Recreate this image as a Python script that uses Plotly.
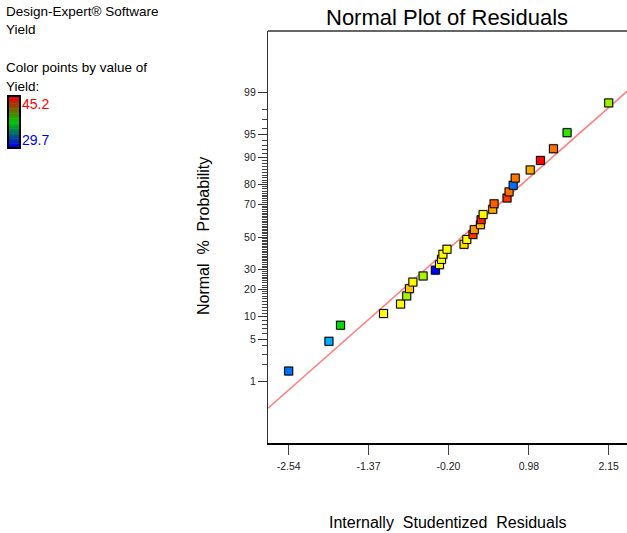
import plotly.graph_objects as go
from statistics import NormalDist

# ---------------- data ----------------
residuals = [-2.54, -1.95, -1.78, -1.15, -0.90, -0.81, -0.77, -0.72, -0.57, -0.39,
             -0.33, -0.30, -0.28, -0.22, 0.03, 0.07, 0.16, 0.18, 0.27, 0.28,
             0.31, 0.45, 0.47, 0.66, 0.69, 0.75, 0.78, 1.00, 1.15, 1.34,
             1.54, 2.15]
normal_pct = [1.5625, 4.6875, 7.8125, 10.9375, 14.0625, 17.1875, 20.3125, 23.4375,
              26.5625, 29.6875, 32.8125, 35.9375, 39.0625, 42.1875, 45.3125, 48.4375,
              51.5625, 54.6875, 57.8125, 60.9375, 64.0625, 67.1875, 70.3125, 73.4375,
              76.5625, 79.6875, 82.8125, 85.9375, 89.0625, 92.1875, 95.3125, 98.4375]
yield_vals = [31.6, 32.6, 37.4, 41.3, 41.3, 40.0, 42.2, 41.4, 40.0, 29.7,
              41.3, 41.2, 41.4, 41.3, 41.9, 41.3, 44.4, 42.9, 42.3, 44.8,
              41.4, 42.6, 43.8, 44.4, 43.5, 31.6, 43.4, 42.6, 45.2, 43.5,
              38.2, 39.8]
yield_min, yield_max = 29.7, 45.2
x_tick_vals = [-2.54, -1.37, -0.20, 0.98, 2.15]
y_major_pct = [1, 5, 10, 20, 30, 50, 70, 80, 90, 95, 99]
line_slope, line_intercept = 0.968, 0.0

# ---------------- geometry ----------------
W, H = 627, 533
L, R, T, B = 268, 0, 31, 90
x_range = [-2.843, 2.418]
z_range = [-3.31, 3.31]

nd = NormalDist()
z = lambda p: nd.inv_cdf(p / 100.0)
point_z = [z(p) for p in normal_pct]

def px(xp):  # pixel -> paper x
    return (xp - L) / (W - L - R)

def py(yp):  # pixel -> paper y
    return (H - B - yp) / (H - T - B)

FONT = "Arial, Liberation Sans, sans-serif"
colorscale = [[0, "rgb(0,0,255)"], [0.25, "rgb(0,230,255)"], [0.5, "rgb(0,220,0)"],
              [0.75, "rgb(255,255,0)"], [1, "rgb(255,0,0)"]]

fig = go.Figure()

# fitted line
fig.add_trace(go.Scatter(
    x=x_range, y=[line_slope * v + line_intercept for v in x_range],
    mode="lines", line=dict(color="rgb(255,128,128)", width=1.6),
    hoverinfo="skip", showlegend=False))

# shadows
fig.add_trace(go.Scatter(
    x=residuals, y=point_z, mode="markers",
    marker=dict(symbol="square", size=10, color="rgba(140,140,140,0.55)", line=dict(width=0)),
    hoverinfo="skip", showlegend=False))

# points
fig.add_trace(go.Scatter(
    x=residuals, y=point_z, mode="markers",
    marker=dict(symbol="square", size=8, color=yield_vals, cmin=yield_min, cmax=yield_max,
                colorscale=colorscale, line=dict(color="black", width=1)),
    showlegend=False))

minor_pct = [p for p in range(1, 100) if p not in y_major_pct]

fig.update_layout(
    width=W, height=H, margin=dict(l=L, r=R, t=T, b=B, pad=0),
    paper_bgcolor="white", plot_bgcolor="white",
    font=dict(family=FONT, color="black"),
    xaxis=dict(range=x_range, tickmode="array", tickvals=x_tick_vals,
               ticktext=[f"{v:.2f}" for v in x_tick_vals],
               ticks="outside", ticklen=10, tickwidth=1, tickcolor="#444",
               showline=True, linecolor="black", linewidth=1.5, mirror=False,
               showgrid=False, zeroline=False, ticklabelstandoff=3,
               tickfont=dict(size=10.5, color="#222", family=FONT)),
    yaxis=dict(range=z_range, tickmode="array", tickvals=[z(p) for p in y_major_pct],
               ticktext=[str(p) for p in y_major_pct],
               ticks="outside", ticklen=9, tickwidth=1.2, tickcolor="#333",
               minor=dict(tickmode="array", tickvals=[z(p) for p in minor_pct],
                          ticks="outside", ticklen=5, tickwidth=1, tickcolor="#444",
                          showgrid=False),
               showline=True, linecolor="#333", linewidth=1.2, mirror=False,
               showgrid=False, zeroline=False,
               tickfont=dict(size=10.5, color="#222", family=FONT)),
)

# top border
fig.add_shape(type="line", xref="paper", yref="paper", x0=0, x1=1, y0=1, y1=1,
              line=dict(color="#666", width=2))

# legend gradient bar (red -> green -> blue)
bx0, bx1, by0, by1 = 9, 19, 97, 147
nstep = 40
for k in range(nstep):
    t = k / (nstep - 1)
    if t < 0.5:
        s = t / 0.5
        col = f"rgb({int(230*(1-s))},{int(200*s)},0)"
    else:
        s = (t - 0.5) / 0.5
        col = f"rgb(0,{int(200*(1-s))},{int(230*s)})"
    ya = by0 + (by1 - by0) * k / nstep
    yb = by0 + (by1 - by0) * (k + 1) / nstep + 0.5
    fig.add_shape(type="rect", xref="paper", yref="paper",
                  x0=px(bx0), x1=px(bx1), y0=py(ya), y1=py(yb),
                  line=dict(width=0), fillcolor=col, layer="above")
fig.add_shape(type="rect", xref="paper", yref="paper",
              x0=px(bx0 - 1), x1=px(bx1 + 1), y0=py(by0 - 1), y1=py(by1 + 1),
              line=dict(color="black", width=2), fillcolor="rgba(0,0,0,0)")

def ann(text, x, y, size, color="black", xanchor="left", angle=0):
    fig.add_annotation(text=text, xref="paper", yref="paper", x=px(x), y=py(y),
                       xanchor=xanchor, yanchor="middle", showarrow=False, textangle=angle,
                       font=dict(size=size, color=color, family=FONT))

ann("Design-Expert® Software", 4, 12, 13.5)
ann("Yield", 4, 30, 13.5)
ann("Color points by value of", 4, 68, 13.5)
ann("Yield:", 4, 86, 13.5)
ann("45.2", 20, 104, 14, color="rgb(255,0,0)")
ann("29.7", 20, 140, 14, color="rgb(0,0,255)")

ann("Normal Plot of Residuals", 447, 17, 22, xanchor="center")
ann("Internally  Studentized  Residuals", 447, 522, 16, xanchor="center")
ann("Normal  %  Probability", 203, 236, 16, xanchor="center", angle=-90)

fig.write_html("out.html")
